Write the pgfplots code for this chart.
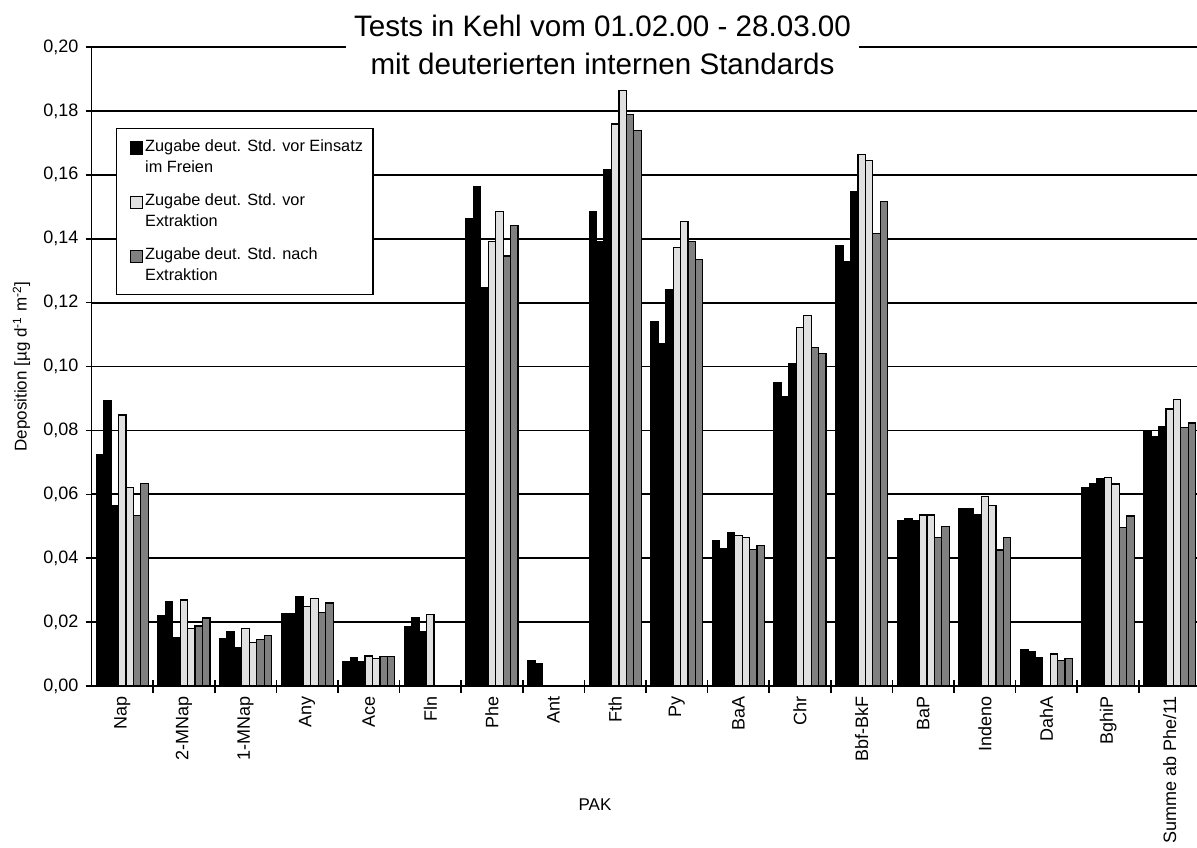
\documentclass[border=0pt]{standalone}
\usepackage{fontspec}
\setmainfont{Liberation Sans}
\usepackage{pgfplots}
\pgfplotsset{compat=1.18}
\definecolor{lgray}{RGB}{224,224,224}
\definecolor{dgray}{RGB}{128,128,128}
\begin{document}
\begin{tikzpicture}
\useasboundingbox (0,0) rectangle (598.5pt,423.5pt);
\begin{axis}[
  at={(45.75pt,80.5pt)}, anchor=south west,
  scale only axis, width=554.5pt, height=319.5pt,
  xmin=-0.5, xmax=17.5, ymin=0, ymax=0.2,
  axis lines*=left,
  axis line style={black, line width=0.9pt},
  ymajorgrids, major grid style={black, line width=0.9pt},
  ytick={0,0.02,0.04,0.06,0.08,0.1,0.12,0.14,0.16,0.18,0.2},
  yticklabel style={/pgf/number format/.cd, fixed, fixed zerofill, precision=2, use comma, assume math mode=true},
  ytick align=outside, major tick length=3pt,
  tick style={black, line width=0.8pt},
  xtick={0,...,17},
  xticklabels={Nap,2-MNap,1-MNap,Any,Ace,Fln,Phe,Ant,Fth,Py,BaA,Chr,Bbf-BkF,BaP,Indeno,DahA,BghiP,Summe ab Phe/11},
  major x tick style={draw=none},
  minor xtick={0.5,1.5,...,16.5},
  xtick align=center, minor tick length=6.5pt,
  xticklabel style={rotate=90, anchor=east},
  tick label style={font=\fontsize{9}{11}\selectfont},
  xlabel={PAK},
  ylabel={Deposition [µg d\textsuperscript{-1} m\textsuperscript{-2}]},
  label style={font=\fontsize{8.5}{10}\selectfont},
  xlabel style={at={(axis description cs:0.454,-0.1862)}, anchor=center},
  ylabel style={at={(axis description cs:-0.0631,0.5)}, anchor=center},
  legend style={at={(0.0221,0.8732)}, anchor=north west, draw=black, line width=0.6pt, fill=white,
    font=\fontsize{8.15}{10.5}\selectfont, inner xsep=4pt, inner ysep=4.5pt, row sep=7.2pt,
    nodes={align=left, inner sep=1pt},
    /tikz/every even column/.append style={column sep=1.5pt}},
  legend cell align=left,
]
\addlegendimage{legend image code/.code={\path (-1pt,4pt); \draw[fill=black,draw=black,line width=0.6pt] (1.5pt,1.6pt) rectangle (7.7pt,7.8pt);}}
\addlegendentry{Zugabe deut. Std. vor Einsatz\\im Freien}
\addlegendimage{legend image code/.code={\path (-1pt,4pt); \draw[fill=lgray,draw=black,line width=0.6pt] (1.5pt,1.6pt) rectangle (7.7pt,7.8pt);}}
\addlegendentry{Zugabe deut. Std. vor\\Extraktion}
\addlegendimage{legend image code/.code={\path (-1pt,4pt); \draw[fill=dgray,draw=black,line width=0.6pt] (1.5pt,1.6pt) rectangle (7.7pt,7.8pt);}}
\addlegendentry{Zugabe deut. Std. nach\\Extraktion}
% black series
\addplot[forget plot, ybar, bar width=0.1206, bar shift=-0.3618, fill=black, draw=black, line width=0.6pt] coordinates {(0,0.0723)(1,0.0220)(2,0.0147)(3,0.0226)(4,0.0076)(5,0.0187)(6,0.1463)(7,0.0078)(8,0.1484)(9,0.1140)(10,0.0455)(11,0.0951)(12,0.1379)(13,0.0518)(14,0.0556)(15,0.0114)(16,0.0622)(17,0.0795)};
\addplot[forget plot, ybar, bar width=0.1206, bar shift=-0.2412, fill=black, draw=black, line width=0.6pt] coordinates {(0,0.0893)(1,0.0265)(2,0.0171)(3,0.0226)(4,0.0088)(5,0.0213)(6,0.1562)(7,0.0070)(8,0.1392)(9,0.1073)(10,0.0430)(11,0.0905)(12,0.1327)(13,0.0525)(14,0.0556)(15,0.0108)(16,0.0634)(17,0.0781)};
\addplot[forget plot, ybar, bar width=0.1206, bar shift=-0.1206, fill=black, draw=black, line width=0.6pt] coordinates {(0,0.0565)(1,0.0152)(2,0.0120)(3,0.0281)(4,0.0076)(5,0.0169)(6,0.1248)(8,0.1615)(9,0.1242)(10,0.0480)(11,0.1010)(12,0.1546)(13,0.0519)(14,0.0537)(15,0.0089)(16,0.0648)(17,0.0812)};
% light series
\addplot[forget plot, ybar, bar width=0.1206, bar shift=0, fill=lgray, draw=black, line width=0.6pt] coordinates {(0,0.0848)(1,0.0269)(2,0.0181)(3,0.0249)(4,0.0094)(5,0.0223)(6,0.1392)(8,0.1759)(9,0.1373)(10,0.0471)(11,0.1121)(12,0.1663)(13,0.0535)(14,0.0592)(16,0.0652)(17,0.0867)};
\addplot[forget plot, ybar, bar width=0.1206, bar shift=0.1206, fill=lgray, draw=black, line width=0.6pt] coordinates {(0,0.0621)(1,0.0180)(2,0.0136)(3,0.0273)(4,0.0085)(6,0.1486)(8,0.1864)(9,0.1453)(10,0.0464)(11,0.1159)(12,0.1644)(13,0.0535)(14,0.0566)(15,0.0100)(16,0.0632)(17,0.0896)};
% dark series
\addplot[forget plot, ybar, bar width=0.1206, bar shift=0.2412, fill=dgray, draw=black, line width=0.6pt] coordinates {(0,0.0534)(1,0.0188)(2,0.0145)(3,0.0231)(4,0.0092)(6,0.1346)(8,0.1788)(9,0.1392)(10,0.0428)(11,0.1059)(12,0.1416)(13,0.0466)(14,0.0426)(15,0.0079)(16,0.0496)(17,0.0809)};
\addplot[forget plot, ybar, bar width=0.1206, bar shift=0.3618, fill=dgray, draw=black, line width=0.6pt] coordinates {(0,0.0634)(1,0.0213)(2,0.0157)(3,0.0260)(4,0.0092)(6,0.1441)(8,0.1739)(9,0.1336)(10,0.0441)(11,0.1040)(12,0.1517)(13,0.0498)(14,0.0466)(15,0.0087)(16,0.0532)(17,0.0823)};
\end{axis}
\node[fill=white, inner sep=0pt, minimum width=256.8pt, minimum height=38pt, align=center,
  font=\fontsize{14.8}{19}\selectfont] at (301.25pt,401pt)
  {Tests in Kehl vom 01.02.00 - 28.03.00\\mit deuterierten internen Standards};
\end{tikzpicture}
\end{document}
